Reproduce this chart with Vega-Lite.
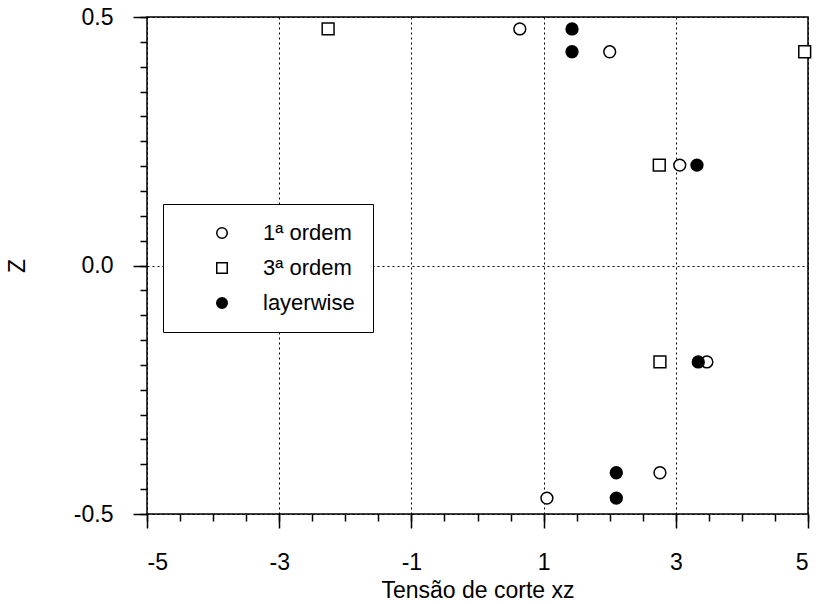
{
  "$schema": "https://vega.github.io/schema/vega-lite/v6.json",
  "autosize": {"type": "none"},
  "padding": {"left": 147, "top": 17, "right": 12, "bottom": 90},
  "width": 661,
  "height": 497,
  "background": "white",
  "config": {
    "view": {"stroke": "black", "strokeWidth": 1.5},
    "font": "Liberation Sans",
    "axis": {
      "labelFont": "Liberation Sans",
      "titleFont": "Liberation Sans",
      "labelColor": "black",
      "titleColor": "black",
      "tickColor": "black",
      "domain": false,
      "titleFontWeight": "normal"
    },
    "legend": {
      "orient": "none", "legendX": 16, "legendY": 187,
      "strokeColor": "black", "fillColor": "white", "padding": 18,
      "symbolSize": 110, "symbolStrokeWidth": 1.5,
      "symbolOffset": 30, "labelOffset": 30,
      "labelFont": "Liberation Sans", "labelFontSize": 22, "labelColor": "black",
      "rowPadding": 13
    }
  },
  "data": {
    "values": [
      {"serie": "1ª ordem", "tensao": 0.64, "z": 0.476},
      {"serie": "1ª ordem", "tensao": 2.0, "z": 0.43},
      {"serie": "1ª ordem", "tensao": 3.06, "z": 0.202},
      {"serie": "1ª ordem", "tensao": 3.47, "z": -0.194},
      {"serie": "1ª ordem", "tensao": 2.76, "z": -0.417},
      {"serie": "1ª ordem", "tensao": 1.05, "z": -0.468},
      {"serie": "3ª ordem", "tensao": -2.26, "z": 0.476},
      {"serie": "3ª ordem", "tensao": 4.95, "z": 0.43},
      {"serie": "3ª ordem", "tensao": 2.75, "z": 0.202},
      {"serie": "3ª ordem", "tensao": 2.76, "z": -0.194},
      {"serie": "layerwise", "tensao": 1.43, "z": 0.476},
      {"serie": "layerwise", "tensao": 1.43, "z": 0.43},
      {"serie": "layerwise", "tensao": 3.32, "z": 0.202},
      {"serie": "layerwise", "tensao": 3.34, "z": -0.194},
      {"serie": "layerwise", "tensao": 2.1, "z": -0.417},
      {"serie": "layerwise", "tensao": 2.1, "z": -0.468}
    ]
  },
  "layer": [
    {
      "mark": {"type": "point", "strokeWidth": 1.5, "size": 140, "opacity": 1},
      "encoding": {
        "x": {
          "field": "tensao", "type": "quantitative",
          "scale": {"domain": [-5, 5], "nice": false, "zero": false},
          "axis": {
            "orient": "bottom",
            "values": [-5, -3, -1, 1, 3, 5],
            "labelExpr": "datum.value < 0 ? '-' + abs(datum.value) : '' + datum.value",
            "grid": true, "gridColor": "black", "gridDash": [2, 3], "gridWidth": 1, "gridOpacity": 1,
            "tickSize": 14, "tickWidth": 1.5,
            "labelFontSize": 23, "labelPadding": 23,
            "title": "Tensão de corte xz", "titleFontSize": 23, "titlePadding": 5
          }
        },
        "y": {
          "field": "z", "type": "quantitative",
          "scale": {"domain": [-0.5, 0.5], "nice": false, "zero": false},
          "axis": {
            "orient": "left",
            "values": [-0.5, 0, 0.5],
            "labelExpr": "datum.value < 0 ? '-' + format(abs(datum.value), '.1f') : format(datum.value, '.1f')",
            "grid": true, "gridColor": "black", "gridDash": [2, 3], "gridWidth": 1, "gridOpacity": 1,
            "tickSize": 14, "tickWidth": 1.5,
            "labelFontSize": 23, "labelPadding": 20,
            "title": "Z", "titleFontSize": 23, "titlePadding": 44
          }
        },
        "shape": {
          "field": "serie", "type": "nominal",
          "scale": {"domain": ["1ª ordem", "3ª ordem", "layerwise"], "range": ["circle", "square", "circle"]},
          "legend": {"title": null}
        },
        "fill": {
          "field": "serie", "type": "nominal",
          "scale": {"domain": ["1ª ordem", "3ª ordem", "layerwise"], "range": ["white", "white", "black"]},
          "legend": {"title": null}
        },
        "stroke": {
          "field": "serie", "type": "nominal",
          "scale": {"domain": ["1ª ordem", "3ª ordem", "layerwise"], "range": ["black", "black", "black"]},
          "legend": {"title": null}
        }
      }
    },
    {
      "mark": {"type": "point", "opacity": 0},
      "encoding": {
        "x": {
          "field": "tensao", "type": "quantitative",
          "axis": {
            "orient": "bottom",
            "values": [-5, -4.5, -4, -3.5, -3, -2.5, -2, -1.5, -1, -0.5, 0, 0.5, 1, 1.5, 2, 2.5, 3, 3.5, 4, 4.5, 5],
            "grid": false, "labels": false, "title": null,
            "tickSize": 7, "tickWidth": 1.5
          }
        },
        "y": {
          "field": "z", "type": "quantitative",
          "axis": {
            "orient": "left",
            "values": [-0.5, -0.45, -0.4, -0.35, -0.3, -0.25, -0.2, -0.15, -0.1, -0.05, 0, 0.05, 0.1, 0.15, 0.2, 0.25, 0.3, 0.35, 0.4, 0.45, 0.5],
            "grid": false, "labels": false, "title": null,
            "tickSize": 7, "tickWidth": 1.5
          }
        }
      }
    }
  ],
  "resolve": {"axis": {"x": "independent", "y": "independent"}}
}
